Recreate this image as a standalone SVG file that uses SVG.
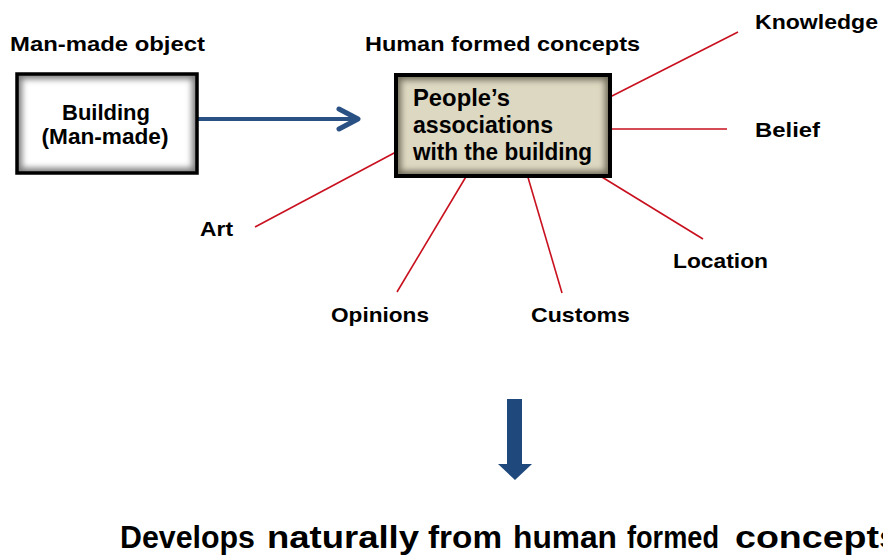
<svg xmlns="http://www.w3.org/2000/svg" width="883" height="556" viewBox="0 0 883 556">
<style>
text{font-family:"Liberation Sans",Arial,sans-serif;font-weight:bold;fill:#000}
.head{font-size:21px}
.lbl{font-size:21px}
.box{font-size:22px}
.inner{font-size:23px}
.link{stroke:#c8101e;stroke-width:1.6;fill:none}
.bottom{font-size:31px}
</style>
<defs>
<filter id="blur" x="-10%" y="-10%" width="120%" height="120%"><feGaussianBlur stdDeviation="3"/></filter>
<clipPath id="c1"><rect x="17" y="74" width="180" height="99"/></clipPath>
<clipPath id="c2"><rect x="396" y="75" width="214" height="101"/></clipPath>
</defs>

<g id="connectors">
<line class="link" x1="610" y1="97" x2="738" y2="32"/>
<line class="link" x1="610" y1="129" x2="727" y2="129"/>
<line class="link" x1="396" y1="152" x2="255" y2="227"/>
<line class="link" x1="467" y1="175" x2="397" y2="292"/>
<line class="link" x1="527" y1="174" x2="562" y2="293"/>
<line class="link" x1="597" y1="174" x2="703" y2="239"/>
<g id="arrow-right">
<line x1="197" y1="119" x2="356" y2="119" stroke="#2a5184" stroke-width="4"/>
<polyline points="339,109 358,119 339,129" fill="none" stroke="#2a5184" stroke-width="5" stroke-linecap="round" stroke-linejoin="round"/>
</g>
<g id="arrow-down">
<polygon points="507,399 522,399 522,464 532,464 515,480 498,464 507,464" fill="#1f497d"/>
</g>
</g>

<g id="heading-left"><text class="head" x="10" y="51" textLength="195" lengthAdjust="spacingAndGlyphs">Man-made object</text></g>
<g id="heading-right"><text class="head" x="365" y="51" textLength="275" lengthAdjust="spacingAndGlyphs">Human formed concepts</text></g>

<g id="building">
<rect x="17" y="74" width="180" height="99" fill="#fff"/>
<g clip-path="url(#c1)"><rect x="17" y="74" width="180" height="99" fill="none" stroke="#7a7a7a" stroke-width="10" filter="url(#blur)"/></g>
<rect x="17" y="74" width="180" height="99" fill="none" stroke="#000" stroke-width="3.5"/>
<text class="box" x="106" y="120" text-anchor="middle" textLength="88" lengthAdjust="spacingAndGlyphs">Building</text>
<text class="box" x="105" y="144" text-anchor="middle" textLength="127" lengthAdjust="spacingAndGlyphs">(Man-made)</text>
</g>

<g id="associations">
<rect x="396" y="75" width="214" height="101" fill="#ddd8c2"/>
<g clip-path="url(#c2)"><rect x="396" y="75" width="214" height="101" fill="none" stroke="#6e6a58" stroke-width="10" filter="url(#blur)"/></g>
<rect x="396" y="75" width="214" height="101" fill="none" stroke="#000" stroke-width="4"/>
<text class="inner" x="413" y="106" textLength="97" lengthAdjust="spacingAndGlyphs">People’s</text>
<text class="inner" x="413" y="133" textLength="140" lengthAdjust="spacingAndGlyphs">associations</text>
<text class="inner" x="413" y="160" textLength="179" lengthAdjust="spacingAndGlyphs">with the building</text>
</g>

<g id="knowledge"><text class="lbl" x="755" y="29" textLength="123" lengthAdjust="spacingAndGlyphs">Knowledge</text></g>
<g id="belief"><text class="lbl" x="755" y="137" textLength="65" lengthAdjust="spacingAndGlyphs">Belief</text></g>
<g id="art"><text class="lbl" x="200" y="236" textLength="33" lengthAdjust="spacingAndGlyphs">Art</text></g>
<g id="opinions"><text class="lbl" x="331" y="322" textLength="98" lengthAdjust="spacingAndGlyphs">Opinions</text></g>
<g id="customs"><text class="lbl" x="531" y="322" textLength="99" lengthAdjust="spacingAndGlyphs">Customs</text></g>
<g id="location"><text class="lbl" x="673" y="268" textLength="95" lengthAdjust="spacingAndGlyphs">Location</text></g>

<g id="conclusion">
<text class="bottom" y="548"><tspan x="120" textLength="135" lengthAdjust="spacingAndGlyphs">Develops</tspan><tspan x="267" textLength="152" lengthAdjust="spacingAndGlyphs">naturally</tspan><tspan x="428" textLength="74" lengthAdjust="spacingAndGlyphs">from</tspan><tspan x="513" textLength="104" lengthAdjust="spacingAndGlyphs">human</tspan><tspan x="627" textLength="92" lengthAdjust="spacingAndGlyphs">formed</tspan><tspan x="735" textLength="165" lengthAdjust="spacingAndGlyphs">concepts</tspan></text>
</g>
</svg>
